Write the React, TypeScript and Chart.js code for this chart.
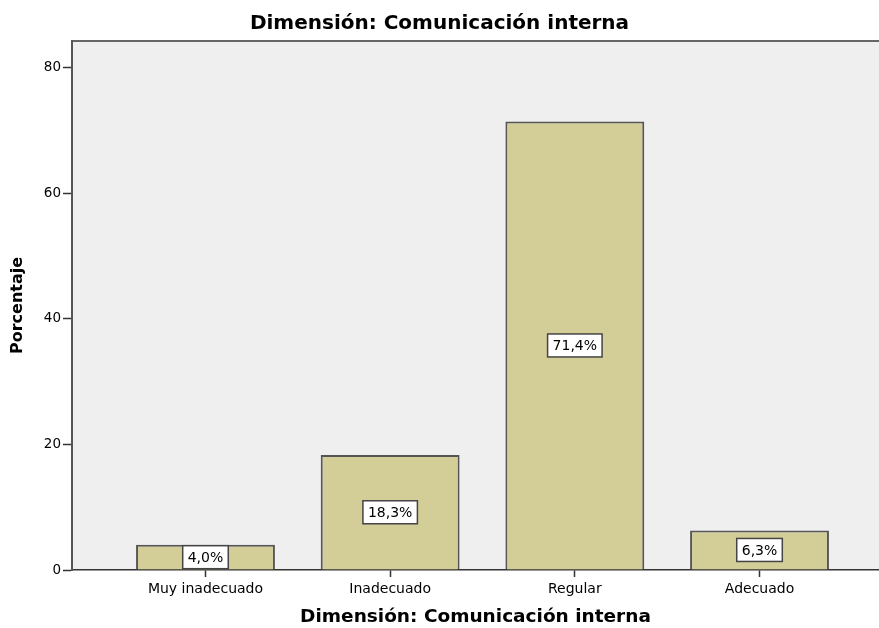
import React, { useEffect, useRef } from "react";
import { Chart, registerables } from "chart.js";

Chart.register(...registerables);

const categories: string[] = ["Muy inadecuado", "Inadecuado", "Regular", "Adecuado"];
const percentages: number[] = [4.0, 18.3, 71.4, 6.3];
const yTicks: number[] = [0, 20, 40, 60, 80];
const chartTitle = "Dimensión: Comunicación interna";
const xTitle = "Dimensión: Comunicación interna";
const yTitle = "Porcentaje";

const FONT = "'DejaVu Sans', 'Liberation Sans', sans-serif";

const plotBg = {
  id: "plotBg",
  beforeDraw(chart: any) {
    const { ctx, chartArea } = chart;
    if (!chartArea) return;
    ctx.save();
    ctx.fillStyle = "#efefef";
    ctx.fillRect(chartArea.left, chartArea.top, chartArea.right - chartArea.left, chartArea.bottom - chartArea.top);
    ctx.strokeStyle = "#666";
    ctx.lineWidth = 2;
    ctx.beginPath();
    ctx.moveTo(chartArea.left - 1, chartArea.top);
    ctx.lineTo(chartArea.right, chartArea.top);
    ctx.stroke();
    ctx.restore();
  },
};

const barLabels = {
  id: "barLabels",
  afterDatasetsDraw(chart: any) {
    const { ctx } = chart;
    const meta = chart.getDatasetMeta(0);
    ctx.save();
    ctx.font = `14px ${FONT}`;
    ctx.textAlign = "center";
    ctx.textBaseline = "middle";
    meta.data.forEach((bar: any, i: number) => {
      const v = percentages[i];
      const txt = v.toFixed(1).replace(".", ",") + "%";
      const cx = bar.x;
      const cy = (bar.y + bar.base) / 2;
      const w = ctx.measureText(txt).width + 10;
      const h = 23;
      ctx.fillStyle = "#ffffff";
      ctx.fillRect(cx - w / 2, cy - h / 2, w, h);
      ctx.strokeStyle = "#444";
      ctx.lineWidth = 1.5;
      ctx.strokeRect(cx - w / 2, cy - h / 2, w, h);
      ctx.fillStyle = "#000";
      ctx.fillText(txt, cx, cy + 1);
    });
    ctx.restore();
  },
};

export default function App() {
  const ref = useRef<HTMLCanvasElement | null>(null);

  useEffect(() => {
    document.body.style.margin = "0";
    const canvas = ref.current;
    if (!canvas) return;
    const chart = new Chart(canvas, {
      type: "bar",
      data: {
        datasets: [
          {
            data: percentages.map((v, i) => ({ x: i, y: v })),
            backgroundColor: "#d3ce98",
            borderColor: "#555",
            borderWidth: 2,
            categoryPercentage: 1,
            barPercentage: 0.752,
          },
        ],
      },
      options: {
        responsive: false,
        animation: false,
        devicePixelRatio: 1,
        layout: { padding: 0 },
        plugins: {
          legend: { display: false },
          tooltip: { enabled: false },
          title: {
            display: true,
            text: chartTitle,
            color: "#000",
            font: { family: FONT, size: 20, weight: "bold" },
            padding: { top: 12, bottom: 5 },
          },
        },
        scales: {
          x: {
            type: "linear",
            offset: false,
            min: -0.7228,
            max: 3.647,
            afterBuildTicks: (scale: any) => {
              scale.ticks = categories.map((_, i) => ({ value: i }));
            },
            afterFit: (scale: any) => {
              scale.height = 58;
            },
            ticks: {
              autoSkip: false,
              maxRotation: 0,
              padding: 4,
              color: "#000",
              font: { family: FONT, size: 14 },
              callback: (v: any) => categories[v] ?? "",
            },
            grid: {
              display: true,
              offset: false,
              drawOnChartArea: false,
              drawTicks: true,
              tickLength: 7,
              tickColor: "#333",
              tickWidth: 1.5,
            },
            border: { display: true, color: "#333", width: 1.5 },
            title: {
              display: true,
              text: xTitle,
              color: "#000",
              font: { family: FONT, size: 18.5, weight: "bold" },
              padding: { top: 0, bottom: 0 },
            },
          },
          y: {
            type: "linear",
            min: 0,
            max: 84.2,
            afterBuildTicks: (scale: any) => {
              scale.ticks = yTicks.map((v) => ({ value: v }));
            },
            afterFit: (scale: any) => {
              scale.width = 72;
            },
            ticks: {
              padding: 2,
              color: "#000",
              font: { family: FONT, size: 13.5 },
            },
            grid: {
              display: true,
              drawOnChartArea: false,
              drawTicks: true,
              tickLength: 9,
              tickColor: "#333",
              tickWidth: 1.5,
            },
            border: { display: true, color: "#555", width: 2 },
            title: {
              display: true,
              text: yTitle,
              color: "#000",
              font: { family: FONT, size: 16, weight: "bold" },
              padding: { top: 8, bottom: 0 },
            },
          },
        },
      },
      plugins: [plotBg, barLabels],
    } as any);
    return () => chart.destroy();
  }, []);

  return (
    <div style={{ position: "absolute", left: 0, top: 0 }}>
      <canvas ref={ref} width={879} height={628} style={{ display: "block" }} />
    </div>
  );
}
